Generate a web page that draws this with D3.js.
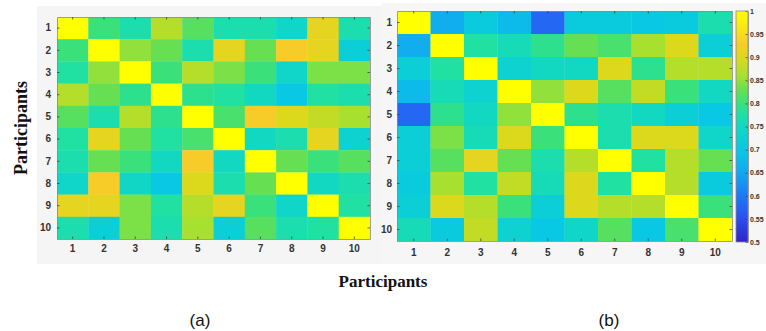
<!DOCTYPE html>
<html>
<head>
<meta charset="utf-8">
<script src="https://cdn.jsdelivr.net/npm/d3@7/dist/d3.min.js"></script>
<style>
  html, body { margin: 0; padding: 0; background: #ffffff; }
  svg { display: block; }
</style>
</head>
<body>
<svg id="fig" width="766" height="331"></svg>
<script>
// Participant indices shared by both matrices
const participants = ["1", "2", "3", "4", "5", "6", "7", "8", "9", "10"];

// Similarity matrix, panel (a)
const matrixA = [
  [1.00, 0.80, 0.77, 0.87, 0.82, 0.77, 0.77, 0.74, 0.91, 0.77],
  [0.80, 1.00, 0.85, 0.83, 0.77, 0.91, 0.83, 0.93, 0.91, 0.72],
  [0.78, 0.85, 1.00, 0.80, 0.87, 0.84, 0.80, 0.74, 0.84, 0.84],
  [0.87, 0.83, 0.79, 1.00, 0.79, 0.78, 0.75, 0.70, 0.78, 0.77],
  [0.82, 0.77, 0.87, 0.79, 1.00, 0.81, 0.93, 0.90, 0.88, 0.86],
  [0.78, 0.91, 0.83, 0.78, 0.81, 1.00, 0.75, 0.77, 0.91, 0.73],
  [0.77, 0.83, 0.80, 0.75, 0.93, 0.75, 1.00, 0.83, 0.80, 0.82],
  [0.74, 0.93, 0.745, 0.70, 0.90, 0.77, 0.83, 1.00, 0.75, 0.77],
  [0.91, 0.91, 0.84, 0.78, 0.87, 0.91, 0.80, 0.74, 1.00, 0.78],
  [0.77, 0.72, 0.84, 0.77, 0.86, 0.72, 0.82, 0.77, 0.78, 1.00]
];

// Similarity matrix, panel (b)
const matrixB = [
  [1.00, 0.66, 0.71, 0.68, 0.58, 0.71, 0.71, 0.70, 0.71, 0.77],
  [0.66, 1.00, 0.78, 0.76, 0.79, 0.83, 0.81, 0.86, 0.90, 0.72],
  [0.72, 0.78, 1.00, 0.73, 0.75, 0.75, 0.90, 0.79, 0.87, 0.87],
  [0.68, 0.76, 0.73, 1.00, 0.85, 0.90, 0.82, 0.88, 0.80, 0.75],
  [0.58, 0.79, 0.75, 0.85, 1.00, 0.79, 0.77, 0.75, 0.72, 0.70],
  [0.72, 0.84, 0.76, 0.90, 0.80, 1.00, 0.77, 0.90, 0.90, 0.74],
  [0.72, 0.82, 0.91, 0.83, 0.77, 0.87, 1.00, 0.78, 0.87, 0.83],
  [0.71, 0.86, 0.78, 0.88, 0.76, 0.90, 0.78, 1.00, 0.87, 0.71],
  [0.72, 0.90, 0.87, 0.80, 0.72, 0.90, 0.87, 0.87, 1.00, 0.80],
  [0.76, 0.71, 0.88, 0.73, 0.70, 0.74, 0.82, 0.70, 0.81, 1.00]
];

// Colour bar ticks
const colorbarTicks = [1, 0.95, 0.9, 0.85, 0.8, 0.75, 0.7, 0.65, 0.6, 0.55, 0.5];

// Parula-like colour ramp
const rampValues = [0.5, 0.55, 0.6, 0.65, 0.7, 0.75, 0.78, 0.8, 0.83, 0.86, 0.9, 0.93, 0.96, 1.0];
const rampColors = ["#3222c6", "#2a4ef0", "#1f78f5", "#12a8f0", "#08c8e4", "#12d8c2", "#20e0a2",
                    "#3ae07a", "#66e052", "#a8e030", "#dcd81c", "#f8cc28", "#f8e418", "#ffff00"];
const color = d3.scaleLinear().domain(rampValues).range(rampColors)
  .interpolate(d3.interpolateRgb).clamp(true);

const svg = d3.select("#fig");

// Light panel backgrounds
svg.append("rect").attr("x", 37).attr("y", 6).attr("width", 345).attr("height", 258).attr("fill", "#f5f5f5");
svg.append("rect").attr("x", 382).attr("y", 3).attr("width", 384).attr("height", 261).attr("fill", "#f6f6f6");

function heatmap(matrix, box, labelGap) {
  const x = d3.scaleBand().domain(participants).range([box.x0, box.x1]);
  const y = d3.scaleBand().domain(participants).range([box.y0, box.y1]);
  const g = svg.append("g");

  const cells = [];
  matrix.forEach((row, i) => row.forEach((v, j) => cells.push({ r: participants[i], c: participants[j], v })));

  g.selectAll("rect.cell").data(cells).join("rect")
    .attr("class", "cell")
    .attr("x", d => x(d.c))
    .attr("y", d => y(d.r))
    .attr("width", x.bandwidth() + 0.3)
    .attr("height", y.bandwidth() + 0.3)
    .attr("fill", d => color(d.v));

  const style = sel => {
    sel.select(".domain").attr("stroke", "#8a8a8a").attr("stroke-width", 0.8);
    sel.selectAll(".tick line").attr("stroke", "#444").attr("stroke-width", 0.8);
    sel.selectAll(".tick text").attr("fill", "#333").attr("font-family", "Arial, 'Liberation Sans', sans-serif")
      .attr("font-size", 10).attr("font-weight", "bold");
  };

  g.append("g").attr("transform", `translate(0,${box.y1})`)
    .call(d3.axisBottom(x).tickSizeInner(-2.5).tickSizeOuter(0).tickPadding(labelGap.x))
    .call(style);
  g.append("g").attr("transform", `translate(${box.x0},0)`)
    .call(d3.axisLeft(y).tickSizeInner(-2.5).tickSizeOuter(0).tickPadding(labelGap.y))
    .call(style);
  g.append("g").attr("transform", `translate(0,${box.y0})`)
    .call(d3.axisTop(x).tickSizeInner(-2.5).tickSizeOuter(0).tickFormat(""))
    .call(style);
  g.append("g").attr("transform", `translate(${box.x1},0)`)
    .call(d3.axisRight(y).tickSizeInner(-2.5).tickSizeOuter(0).tickFormat(""))
    .call(style);
}

heatmap(matrixA, { x0: 57, x1: 370, y0: 17, y1: 239 }, { x: 6, y: 6 });
heatmap(matrixB, { x0: 397, x1: 732, y0: 11, y1: 241 }, { x: 8, y: 5 });

// Colour bar
const cb = { x0: 736, x1: 748, y0: 11, y1: 242 };
const cbScale = d3.scaleLinear().domain([0.5, 1]).range([cb.y1, cb.y0]);
const grad = svg.append("defs").append("linearGradient")
  .attr("id", "cbGrad").attr("x1", 0).attr("y1", 1).attr("x2", 0).attr("y2", 0);
d3.range(0, 1.0001, 0.02).forEach(t => {
  grad.append("stop").attr("offset", t).attr("stop-color", color(0.5 + 0.5 * t));
});
svg.append("rect").attr("x", cb.x0).attr("y", cb.y0)
  .attr("width", cb.x1 - cb.x0).attr("height", cb.y1 - cb.y0)
  .attr("fill", "url(#cbGrad)");
const cbAxis = svg.append("g").attr("transform", `translate(${cb.x1},0)`)
  .call(d3.axisRight(cbScale).tickValues(colorbarTicks).tickFormat(d3.format("~g"))
    .tickSizeInner(-2.5).tickSizeOuter(0).tickPadding(2));
cbAxis.select(".domain").attr("stroke", "#8a8a8a").attr("stroke-width", 0.8);
cbAxis.selectAll(".tick line").attr("stroke", "#444").attr("stroke-width", 0.8);
// Small type so the two-decimal labels fit inside the right edge
cbAxis.selectAll(".tick text").attr("fill", "#333").attr("font-family", "Arial, 'Liberation Sans', sans-serif")
  .attr("font-size", 7).attr("font-weight", "bold");
svg.append("rect").attr("x", cb.x0).attr("y", cb.y0)
  .attr("width", cb.x1 - cb.x0).attr("height", cb.y1 - cb.y0)
  .attr("fill", "none").attr("stroke", "#8a8a8a").attr("stroke-width", 0.8);

// Axis titles
svg.append("text")
  .attr("transform", "translate(27,128) rotate(-90)")
  .attr("text-anchor", "middle")
  .attr("font-family", "'Liberation Serif', 'Times New Roman', serif")
  .attr("font-weight", "bold").attr("font-size", 18).attr("fill", "#111")
  .text("Participants");

svg.append("text")
  .attr("x", 383).attr("y", 287)
  .attr("text-anchor", "middle")
  .attr("font-family", "'Liberation Serif', 'Times New Roman', serif")
  .attr("font-weight", "bold").attr("font-size", 17).attr("fill", "#111")
  .text("Participants");

// Panel letters
[["(a)", 200], ["(b)", 609]].forEach(([t, cx]) => {
  svg.append("text").attr("x", cx).attr("y", 326)
    .attr("text-anchor", "middle")
    .attr("font-family", "Arial, 'Liberation Sans', sans-serif")
    .attr("font-size", 17).attr("fill", "#111")
    .text(t);
});
</script>
</body>
</html>
